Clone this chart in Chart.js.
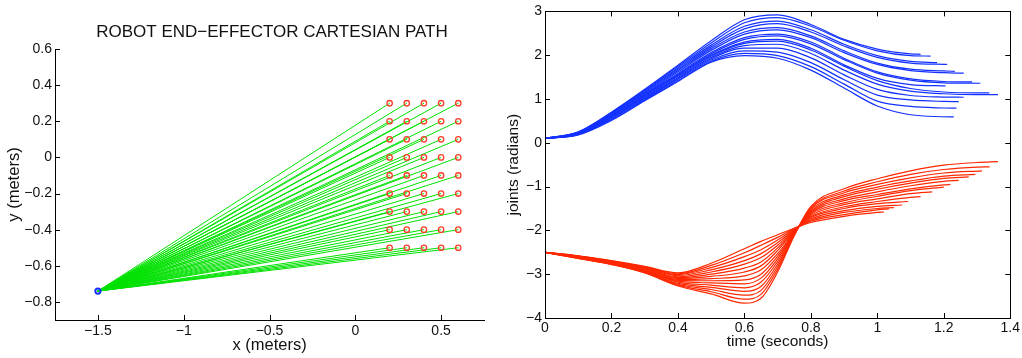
<!DOCTYPE html>
<html>
<head>
<meta charset="utf-8">
<script src="https://cdn.jsdelivr.net/npm/chart.js@4"></script>
<style>
html, body { margin: 0; padding: 0; background: #fff; }
#left { position: absolute; left: 0; top: 0; }
#right { position: absolute; left: 500px; top: 0; }
</style>
</head>
<body>
<canvas id="left" width="544" height="358"></canvas>
<canvas id="right" width="522" height="358"></canvas>
<script>
// ---- left plot: cartesian path ----
const START = [-1.5, -0.74];
const TARGET_X = [0.2, 0.3, 0.4, 0.5, 0.6];
const TARGET_Y = [0.3, 0.2, 0.1, 0, -0.1, -0.2, -0.3, -0.4, -0.5];
const XL_TICKS = [-1.5, -1, -0.5, 0, 0.5];
const YL_TICKS = [-0.8, -0.6, -0.4, -0.2, 0, 0.2, 0.4, 0.6];

// ---- right plot: joint angles vs time ----
const XR_TICKS = [0, 0.2, 0.4, 0.6, 0.8, 1, 1.2, 1.4];
const YR_TICKS = [-4, -3, -2, -1, 0, 1, 2, 3];

const T_BLUE = [0, 0.1, 0.2, 0.3, 0.4, 0.5, 0.6, 0.7, 0.8, 0.9, 1.0, 1.1, 1.2, 1.3];
const JOINT1 = [
  [0.1, 0.25, 0.70, 1.22, 1.77, 2.33, 2.81, 2.92, 2.70, 2.36, 2.14, 2.03],
  [0.1, 0.245, 0.69, 1.20, 1.74, 2.28, 2.74, 2.86, 2.66, 2.34, 2.10, 1.99],
  [0.1, 0.24, 0.68, 1.18, 1.71, 2.23, 2.66, 2.78, 2.58, 2.25, 1.99, 1.86],
  [0.1, 0.235, 0.67, 1.16, 1.68, 2.19, 2.60, 2.72, 2.53, 2.21, 1.95, 1.82],
  [0.1, 0.23, 0.66, 1.14, 1.65, 2.15, 2.53, 2.63, 2.44, 2.10, 1.82, 1.68, 1.64],
  [0.1, 0.225, 0.65, 1.12, 1.62, 2.11, 2.48, 2.58, 2.40, 2.06, 1.79, 1.65, 1.60],
  [0.1, 0.22, 0.63, 1.10, 1.58, 2.06, 2.40, 2.48, 2.30, 1.93, 1.62, 1.46, 1.40],
  [0.1, 0.215, 0.62, 1.08, 1.56, 2.03, 2.36, 2.44, 2.26, 1.90, 1.59, 1.43, 1.37],
  [0.1, 0.21, 0.61, 1.07, 1.54, 2.00, 2.30, 2.36, 2.16, 1.78, 1.47, 1.33],
  [0.1, 0.205, 0.60, 1.05, 1.52, 1.98, 2.27, 2.32, 2.12, 1.75, 1.42, 1.24, 1.16, 1.14],
  [0.1, 0.20, 0.58, 1.03, 1.49, 1.95, 2.22, 2.25, 2.04, 1.66, 1.34, 1.18, 1.12, 1.10],
  [0.1, 0.195, 0.57, 1.01, 1.47, 1.92, 2.16, 2.16, 1.94, 1.55, 1.22, 1.08, 1.045],
  [0.1, 0.19, 0.55, 0.99, 1.45, 1.89, 2.10, 2.07, 1.83, 1.44, 1.09, 0.98, 0.945],
  [0.1, 0.185, 0.53, 0.97, 1.42, 1.86, 2.04, 1.99, 1.74, 1.34, 0.95, 0.83, 0.795],
  [0.1, 0.18, 0.51, 0.96, 1.40, 1.84, 1.99, 1.93, 1.66, 1.25, 0.84, 0.64, 0.595]
];
const JOINT1_END = [
  [1.13, 2.02], [1.16, 1.98], [1.18, 1.83], [1.21, 1.79], [1.233, 1.63],
  [1.26, 1.59], [1.285, 1.39], [1.31, 1.36], [1.205, 1.30], [1.337, 1.14],
  [1.363, 1.10], [1.26, 1.04], [1.245, 0.94], [1.238, 0.79], [1.23, 0.59]
];

const T_RED = [0, 0.1, 0.2, 0.3, 0.4, 0.5, 0.6, 0.65, 0.7, 0.75, 0.8, 0.9, 1.0, 1.1, 1.2, 1.3];
const JOINT2 = [
  [-2.50, -2.64, -2.78, -2.97, -3.27, -3.45, -3.66, -3.55, -2.95, -2.12, -1.45, -1.05, -0.82, -0.64, -0.51, -0.45],
  [-2.50, -2.64, -2.77, -2.96, -3.25, -3.40, -3.57, -3.46, -2.89, -2.11, -1.48, -1.10, -0.89, -0.72, -0.61, -0.555],
  [-2.50, -2.63, -2.77, -2.95, -3.23, -3.35, -3.48, -3.37, -2.83, -2.10, -1.50, -1.14, -0.95, -0.80, -0.69],
  [-2.50, -2.63, -2.76, -2.94, -3.21, -3.30, -3.39, -3.28, -2.77, -2.08, -1.53, -1.19, -1.01, -0.87, -0.76],
  [-2.50, -2.62, -2.75, -2.93, -3.18, -3.25, -3.31, -3.18, -2.71, -2.07, -1.56, -1.23, -1.06, -0.92, -0.81],
  [-2.50, -2.62, -2.75, -2.92, -3.16, -3.20, -3.22, -3.09, -2.65, -2.06, -1.58, -1.28, -1.12, -0.98, -0.88],
  [-2.50, -2.61, -2.74, -2.91, -3.14, -3.15, -3.13, -3.00, -2.59, -2.05, -1.61, -1.32, -1.18, -1.05, -0.96],
  [-2.50, -2.61, -2.74, -2.90, -3.12, -3.10, -3.04, -2.90, -2.53, -2.04, -1.63, -1.37, -1.22, -1.09],
  [-2.50, -2.60, -2.73, -2.88, -3.10, -3.05, -2.95, -2.81, -2.46, -2.02, -1.66, -1.41, -1.28, -1.16],
  [-2.50, -2.60, -2.72, -2.87, -3.08, -3.00, -2.86, -2.72, -2.40, -2.01, -1.69, -1.46, -1.34, -1.245],
  [-2.50, -2.59, -2.72, -2.86, -3.06, -2.95, -2.77, -2.62, -2.34, -2.00, -1.71, -1.50, -1.39],
  [-2.50, -2.59, -2.71, -2.85, -3.03, -2.90, -2.69, -2.53, -2.28, -1.99, -1.74, -1.55, -1.45],
  [-2.50, -2.59, -2.70, -2.84, -3.01, -2.85, -2.60, -2.44, -2.22, -1.98, -1.77, -1.59, -1.50],
  [-2.50, -2.58, -2.70, -2.83, -2.99, -2.80, -2.51, -2.34, -2.16, -1.96, -1.79, -1.64, -1.53],
  [-2.50, -2.58, -2.69, -2.82, -2.97, -2.75, -2.42, -2.25, -2.10, -1.95, -1.82, -1.68, -1.59]
];
const JOINT2_END = [
  [1.363, -0.43], [1.338, -0.55], [1.315, -0.64], [1.295, -0.72], [1.275, -0.78],
  [1.245, -0.86], [1.22, -0.95], [1.2, -1.01], [1.165, -1.12], [1.13, -1.23],
  [1.093, -1.34], [1.075, -1.42], [1.05, -1.48], [1.035, -1.51], [1.02, -1.58]
];

const GREEN = 'rgb(0, 225, 0)';
const BLUE = 'rgb(20, 50, 255)';
const RED = 'rgb(255, 40, 0)';
const CIRCLE = 'rgb(255, 60, 40)';
const TEXT = '#111';

Chart.defaults.font.family = "'Liberation Sans', Arial, Helvetica, sans-serif";
Chart.defaults.color = TEXT;

// matlab-ish minus sign
const fmt = v => (v < 0 ? '\u2212' + String(-v) : String(v));

// inward tick marks (and full box for the right plot)
function axesMarks(box, xt, yt) {
  return {
    id: 'axesMarks',
    afterDraw(chart) {
      const { ctx, chartArea: a } = chart;
      const x = chart.scales.x, y = chart.scales.y;
      ctx.save();
      ctx.strokeStyle = '#000';
      ctx.lineWidth = 1;
      ctx.beginPath();
      xt.forEach(v => {
        const px = Math.round(x.getPixelForValue(v)) + 0.5;
        ctx.moveTo(px, a.bottom); ctx.lineTo(px, a.bottom - 5);
        if (box) { ctx.moveTo(px, a.top); ctx.lineTo(px, a.top + 5); }
      });
      yt.forEach(v => {
        const py = Math.round(y.getPixelForValue(v)) + 0.5;
        ctx.moveTo(a.left, py); ctx.lineTo(a.left + 5, py);
        if (box) { ctx.moveTo(a.right, py); ctx.lineTo(a.right - 5, py); }
      });
      ctx.stroke();
      if (box) {
        ctx.strokeRect(Math.round(a.left) + 0.5, Math.round(a.top) + 0.5,
          Math.round(a.right - a.left), Math.round(a.bottom - a.top));
      }
      ctx.restore();
    }
  };
}

function axis(min, max, ticks, size, title, titlePad, showBorder) {
  return {
    type: 'linear', min: min, max: max,
    afterBuildTicks: s => { s.ticks = ticks.map(v => ({ value: v })); },
    grid: { display: false, drawTicks: false },
    border: { display: showBorder, color: '#000', width: 1 },
    ticks: { padding: 3, color: TEXT, font: { size: 14 }, callback: fmt, maxRotation: 0, autoSkip: false },
    title: { display: true, text: title, color: TEXT, font: { size: size }, padding: titlePad }
  };
}

// left chart
const pathSets = [];
TARGET_Y.forEach(ty => TARGET_X.forEach(tx => {
  pathSets.push({
    data: [{ x: START[0], y: START[1] }, { x: tx, y: ty }],
    borderColor: GREEN, borderWidth: 1, pointRadius: 0, tension: 0
  });
}));
const targets = [];
TARGET_Y.forEach(ty => TARGET_X.forEach(tx => targets.push({ x: tx, y: ty })));

const xl = axis(-1.75, 0.75, XL_TICKS, 16.5, 'x (meters)', { top: 0, bottom: 3 }, true);
xl.afterFit = s => { s.height = 38; };
const yl = axis(-0.9, 0.6, YL_TICKS, 16.5, 'y (meters)', { top: 5, bottom: 0 }, true);
yl.afterFit = s => { s.width = 55; };

new Chart(document.getElementById('left'), {
  type: 'line',
  data: {
    datasets: [
      { data: [{ x: START[0], y: START[1] }], showLine: false, pointRadius: 2.6,
        pointBorderColor: BLUE, pointBackgroundColor: 'rgba(0,0,0,0)', pointBorderWidth: 2 },
      { data: targets, showLine: false, pointRadius: 2.7,
        pointBorderColor: CIRCLE, pointBackgroundColor: 'rgba(0,0,0,0)', pointBorderWidth: 1.3 },
      ...pathSets
    ]
  },
  options: {
    responsive: false, animation: false, devicePixelRatio: 1, events: [],
    layout: { padding: 0 },
    plugins: {
      legend: { display: false }, tooltip: { enabled: false },
      title: { display: true, text: 'ROBOT END\u2212EFFECTOR CARTESIAN PATH', color: TEXT,
               font: { size: 17, weight: 'normal' }, padding: { top: 22, bottom: 6.6 } }
    },
    scales: {
      x: xl,
      y: yl,
      // empty right gutter so the title sits where it does in the original
      y2: { position: 'right', display: true, grid: { display: false, drawTicks: false },
            border: { display: false }, ticks: { display: false },
            afterFit: s => { s.width = 60; } }
    }
  },
  plugins: [axesMarks(false, XL_TICKS, YL_TICKS)]
});

// right chart
function curve(times, vals, end, color) {
  const pts = vals.map((v, i) => ({ x: times[i], y: v }));
  pts.push({ x: end[0], y: end[1] });
  return { data: pts, borderColor: color, borderWidth: 1.2, pointRadius: 0,
           cubicInterpolationMode: 'monotone', fill: false };
}
const jointSets = [];
JOINT1.forEach((row, i) => jointSets.push(curve(T_BLUE, row, JOINT1_END[i], BLUE)));
JOINT2.forEach((row, i) => jointSets.push(curve(T_RED, row, JOINT2_END[i], RED)));

const xr = axis(0, 1.4, XR_TICKS, 15.5, 'time (seconds)', { top: 0, bottom: 7 }, false);
xr.ticks.padding = 2;
xr.afterFit = s => { s.height = 40; };
const yr = axis(-4, 3, YR_TICKS, 15.5, 'joints (radians)', { top: 4, bottom: 0 }, false);
yr.afterFit = s => { s.width = 45; };

new Chart(document.getElementById('right'), {
  type: 'line',
  data: { datasets: jointSets },
  options: {
    responsive: false, animation: false, devicePixelRatio: 1, events: [],
    layout: { padding: { top: 3, right: 10, left: 0, bottom: 0 } },
    plugins: { legend: { display: false }, tooltip: { enabled: false } },
    scales: { x: xr, y: yr }
  },
  plugins: [axesMarks(true, XR_TICKS, YR_TICKS)]
});
</script>
</body>
</html>
